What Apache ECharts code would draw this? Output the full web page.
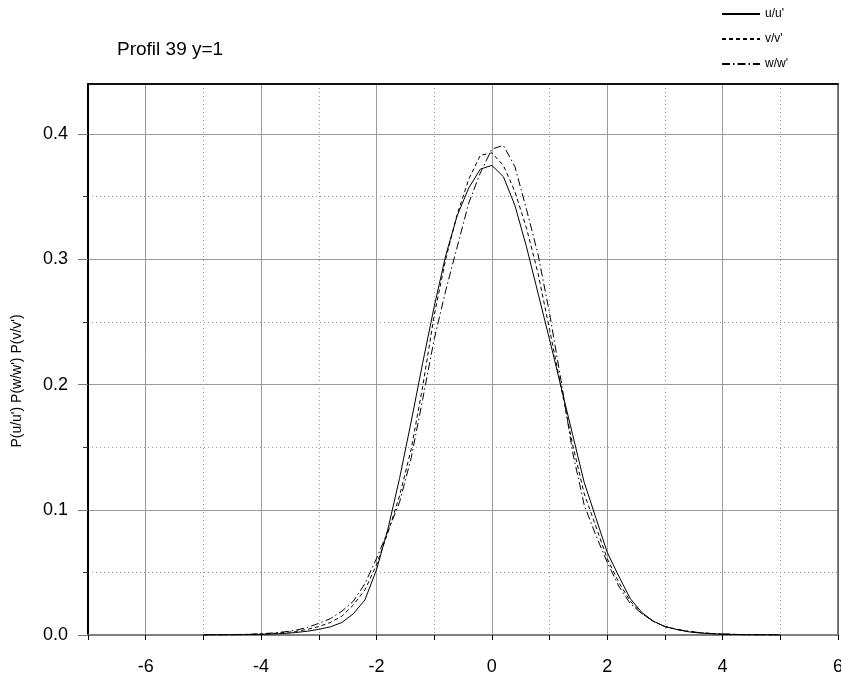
<!DOCTYPE html>
<html><head><meta charset="utf-8">
<script src="https://cdn.jsdelivr.net/npm/echarts@6/dist/echarts.min.js"></script>
<style>html,body{margin:0;padding:0;background:#fff;overflow:hidden}#c{width:841px;height:676px}</style>
</head><body><div id="c"></div>
<script>
const xValues = [-5.0,-4.8,-4.6,-4.4,-4.2,-4.0,-3.8,-3.6,-3.4,-3.2,-3.0,-2.8,-2.6,-2.4,-2.2,-2.0,-1.8,-1.6,-1.4,-1.2,-1.0,-0.8,-0.6,-0.4,-0.2,0.0,0.2,0.4,0.6,0.8,1.0,1.2,1.4,1.6,1.8,2.0,2.2,2.4,2.6,2.8,3.0,3.2,3.4,3.6,3.8,4.0,4.2,4.4,4.6,4.8,5.0];
const uValues = [0,0.0001,0.0001,0.0002,0.0003,0.0005,0.0008,0.0012,0.002,0.003,0.0045,0.0065,0.010,0.017,0.028,0.052,0.085,0.125,0.170,0.217,0.262,0.303,0.335,0.357,0.372,0.375,0.366,0.343,0.310,0.273,0.236,0.198,0.160,0.122,0.094,0.066,0.047,0.029,0.018,0.011,0.0067,0.0045,0.0026,0.0016,0.001,0.0006,0.0004,0.0002,0.0001,0.0001,0];
const vValues = [0,0.0001,0.0002,0.0003,0.0005,0.0008,0.0012,0.0019,0.0029,0.0045,0.0067,0.010,0.015,0.024,0.036,0.056,0.082,0.111,0.148,0.198,0.255,0.300,0.336,0.364,0.383,0.385,0.375,0.354,0.325,0.289,0.244,0.198,0.152,0.113,0.087,0.061,0.042,0.027,0.017,0.011,0.0067,0.0045,0.0029,0.0019,0.0012,0.0008,0.0005,0.0003,0.0002,0.0001,0];
const wValues = [0,0.0001,0.0002,0.0004,0.0006,0.001,0.0016,0.0025,0.0038,0.006,0.0093,0.013,0.019,0.027,0.041,0.061,0.083,0.106,0.141,0.188,0.236,0.275,0.310,0.345,0.369,0.388,0.391,0.374,0.340,0.304,0.257,0.203,0.146,0.104,0.080,0.058,0.039,0.025,0.017,0.011,0.0068,0.0045,0.003,0.0019,0.0012,0.0008,0.0005,0.0003,0.0002,0.0001,0];
const seriesNames = ["u/u'", "v/v'", "w/w'"];
const titleText = 'Profil 39 y=1';
const yAxisTitle = "P(u/u') P(w/w') P(v/v')";
const xRange = [-7, 6];
const yRange = [0, 0.44];
const yMajorTicks = [0, 0.1, 0.2, 0.3, 0.4];

const FONT = '"Liberation Sans", Arial, sans-serif';
const chart = echarts.init(document.getElementById('c'), null, {renderer: 'canvas'});
const pairs = ys => xValues.map((x, i) => [x, ys[i]]);
const isMult = (v, step) => Math.abs(v / step - Math.round(v / step)) < 1e-6;
const T = 'rgba(0,0,0,0)';

const dashTypes = ['solid', [4, 3], [8, 3, 1.5, 3]];
const seriesData = [uValues, vValues, wValues];

const option = {
  animation: false,
  backgroundColor: '#fff',
  title: {
    text: titleText, left: 117, top: 40, padding: 0,
    textStyle: {fontFamily: FONT, fontSize: 19, fontWeight: 'normal', color: '#000'}
  },
  legend: {
    orient: 'vertical', left: 721, top: 8, padding: 0,
    itemWidth: 38, itemHeight: 14, itemGap: 13,
    itemStyle: {color: T, borderColor: T, borderWidth: 0},
    textStyle: {fontFamily: FONT, fontSize: 12, color: '#000'},
    data: seriesNames
  },
  grid: {left: 88, right: 3, top: 84, bottom: 41, containLabel: false, outerBoundsMode: 'none'},
  xAxis: [
    {
      type: 'value', min: xRange[0], max: xRange[1], interval: 1, position: 'bottom',
      axisLine: {show: true, onZero: false, lineStyle: {color: '#808080', width: 2}},
      axisTick: {show: true, inside: false, length: 5, lineStyle: {color: '#000', width: 1}},
      axisLabel: {margin: 23, fontSize: 18, fontFamily: FONT, color: '#000',
        showMinLabel: true, showMaxLabel: true, hideOverlap: false,
        formatter: v => isMult(v, 2) ? String(v) : ''},
      splitLine: {show: true, lineStyle: {color: [T, '#9a9a9a'], width: 1}}
    },
    {
      type: 'value', min: xRange[0], max: xRange[1], interval: 1, position: 'top',
      axisLine: {show: true, onZero: false, lineStyle: {color: '#111', width: 2}},
      axisTick: {show: false}, axisLabel: {show: false},
      splitLine: {show: true, lineStyle: {color: ['#9a9a9a', T], width: 1, type: [1, 3]}}
    }
  ],
  yAxis: [
    {
      type: 'value', min: yRange[0], max: yRange[1], interval: 0.1, position: 'left',
      axisLine: {show: true, onZero: false, lineStyle: {color: '#000', width: 2}},
      axisTick: {show: true, inside: false, length: 10, customValues: yMajorTicks, lineStyle: {color: '#777', width: 1}},
      minorTick: {show: true, splitNumber: 2, length: 5, lineStyle: {color: '#333', width: 1}},
      axisLabel: {margin: 20, fontSize: 18, fontFamily: FONT, color: '#000',
        formatter: v => isMult(v, 0.1) ? v.toFixed(1) : ''},
      splitLine: {show: true, lineStyle: {color: '#9a9a9a', width: 1}},
      minorSplitLine: {show: true, lineStyle: {color: '#9a9a9a', width: 1, type: [1, 3]}}
    },
    {
      type: 'value', min: yRange[0], max: yRange[1], interval: 0.1, position: 'right',
      axisLine: {show: true, onZero: false, lineStyle: {color: '#555', width: 1.5}},
      axisTick: {show: false}, axisLabel: {show: false}, splitLine: {show: false}
    }
  ],
  graphic: [{
    type: 'text', x: 17, y: 381, rotation: Math.PI / 2,
    style: {text: yAxisTitle, font: '14px ' + FONT, fill: '#000', align: 'center', verticalAlign: 'middle'}
  }],
  series: seriesNames.map((name, i) => ({
    name, type: 'line', xAxisIndex: 0, yAxisIndex: 0,
    data: pairs(seriesData[i]),
    symbol: 'none', smooth: false, z: 5,
    lineStyle: {color: '#000', width: 1, type: dashTypes[i]},
    itemStyle: {color: '#000'}
  }))
};
chart.setOption(option);
</script>
</body></html>
